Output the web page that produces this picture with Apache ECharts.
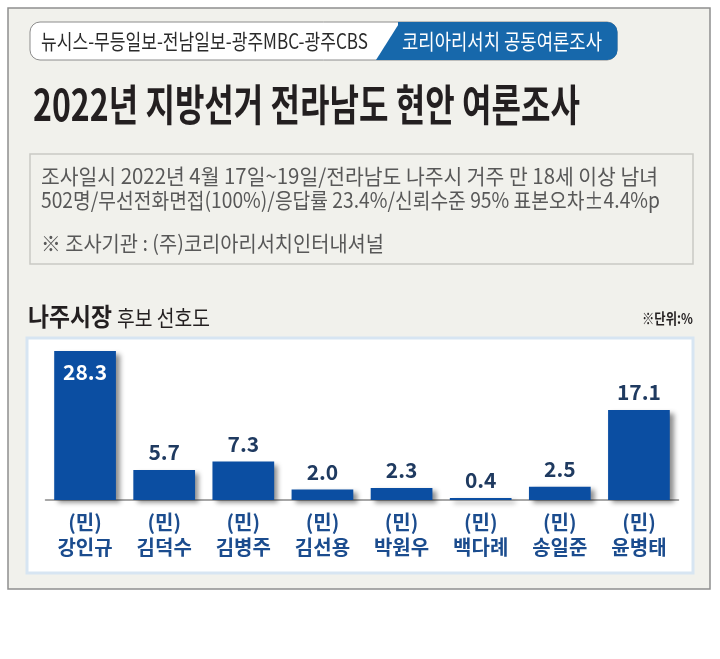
<!DOCTYPE html>
<html>
<head>
<meta charset="utf-8">
<script src="https://cdn.jsdelivr.net/npm/echarts@6/dist/echarts.min.js"></script>
<style>
  html, body { margin: 0; padding: 0; background: #ffffff; }
  #chart { width: 720px; height: 659px; }
</style>
</head>
<body>
<div id="chart"></div>
<script>
// ---- data ----
const parties = ['(민)', '(민)', '(민)', '(민)', '(민)', '(민)', '(민)', '(민)'];
const names = ['강인규', '김덕수', '김병주', '김선용', '박원우', '백다례', '송일준', '윤병태'];
const values = [28.3, 5.7, 7.3, 2.0, 2.3, 0.4, 2.5, 17.1];

const headerLeft = '뉴시스-무등일보-전남일보-광주MBC-광주CBS';
const headerRight = '코리아리서치 공동여론조사';
const titleText = '2022년 지방선거 전라남도 현안 여론조사';
const infoLines = [
  '조사일시 2022년 4월 17일~19일/전라남도 나주시 거주 만 18세 이상 남녀',
  '502명/무선전화면접(100%)/응답률 23.4%/신뢰수준 95% 표본오차±4.4%p',
  '※ 조사기관 : (주)코리아리서치인터내셔널'
];
const subBold = '나주시장';
const subRegular = '후보 선호도';
const unitText = '※단위:%';

// ---- helpers ----
const FF = "'Noto Sans CJK KR', 'Noto Sans', sans-serif";
const mctx = document.createElement('canvas').getContext('2d');
function fitScale(text, font, target) {
  mctx.font = font;
  const w = mctx.measureText(text).width;
  return w > 0 ? target / w : 1;
}
function fitText(text, font, x, y, target, fill, align) {
  return {
    type: 'text',
    x: x, y: y,
    scaleX: fitScale(text, font, target),
    z: -1,
    style: {
      text: text, x: 0, y: 0, font: font, fill: fill,
      align: align || 'left', verticalAlign: 'middle'
    }
  };
}

const titleFont = 'bold 43px ' + FF;
const infoFont = '21px ' + FF;
const headFont = '21px ' + FF;

const graphics = [
  // outer frame
  { type: 'rect', z: -6, shape: { x: 8, y: 8, width: 702, height: 581 },
    style: { fill: '#f1f1ec', stroke: '#8f8f8f', lineWidth: 1.5 } },
  // header pill
  { type: 'rect', z: -5, shape: { x: 30, y: 22, width: 587, height: 38, r: 10 },
    style: { fill: '#ffffff', stroke: '#8c8c8c', lineWidth: 1 } },
  { type: 'rect', z: -4, shape: { x: 398, y: 22, width: 219.5, height: 38, r: [0, 10, 10, 0] },
    style: { fill: '#1768ab' } },
  { type: 'polygon', z: -4, shape: { points: [[400, 22], [400, 60], [376, 60]] },
    style: { fill: '#1768ab' } },
  fitText(headerLeft, headFont, 41, 41, 327, '#2a2a2a'),
  fitText(headerRight, headFont, 402, 41, 200, '#ffffff'),
  // title
  fitText(titleText, titleFont, 33, 105, 547, '#231f20'),
  // info box
  { type: 'rect', z: -5, shape: { x: 30, y: 154, width: 663, height: 110 },
    style: { fill: 'rgba(0,0,0,0)', stroke: '#c9c9c4', lineWidth: 1.5 } },
  fitText(infoLines[0], infoFont, 41, 176, 617, '#585858'),
  fitText(infoLines[1], infoFont, 41, 200, 619, '#585858'),
  fitText(infoLines[2], infoFont, 41, 243, 343, '#585858'),
  // subtitle
  fitText(subBold, 'bold 25px ' + FF, 28, 316, 84, '#231f20'),
  fitText(subRegular, '22px ' + FF, 117, 318, 93, '#231f20'),
  fitText(unitText, 'bold 15px ' + FF, 693, 318, 51, '#231f20', 'right'),
  // chart box
  { type: 'rect', z: -5, shape: { x: 27, y: 338, width: 666, height: 235 },
    style: { fill: '#ffffff', stroke: '#d7e5f2', lineWidth: 3 } }
];

const chart = echarts.init(document.getElementById('chart'), null, { renderer: 'canvas' });
chart.setOption({
  animation: false,
  backgroundColor: '#ffffff',
  textStyle: { fontFamily: FF },
  graphic: { elements: graphics },
  grid: { left: 45.5, right: 41.5, top: 342, bottom: 159, containLabel: false },
  xAxis: {
    type: 'category',
    z: 10,
    data: names.map((n, i) => parties[i] + '\n' + n),
    axisTick: { show: false },
    axisLine: { lineStyle: { color: '#8a8a8a', width: 1.5 } },
    axisLabel: {
      interval: 0, margin: 10, color: '#1b4c8e', fontFamily: FF,
      fontSize: 20, fontWeight: 'bold', lineHeight: 25
    }
  },
  yAxis: {
    type: 'value', min: 0, max: 30, show: false,
    splitLine: { show: false }
  },
  series: [{
    type: 'bar',
    z: 12,
    barCategoryGap: '22%',
    data: values.map(v => v > 20 ? {
      value: v,
      label: { position: 'insideTop', distance: 11, color: '#ffffff' }
    } : v),
    itemStyle: {
      color: '#0b4ea2',
      shadowColor: 'rgba(0,0,0,0.45)',
      shadowBlur: 5, shadowOffsetX: 4, shadowOffsetY: 3
    },
    label: {
      show: true, position: 'top', distance: 7,
      color: '#1f3a60', fontFamily: FF, fontSize: 21, fontWeight: 'bold',
      formatter: p => Number(p.value).toFixed(1)
    }
  }]
});
</script>
</body>
</html>
